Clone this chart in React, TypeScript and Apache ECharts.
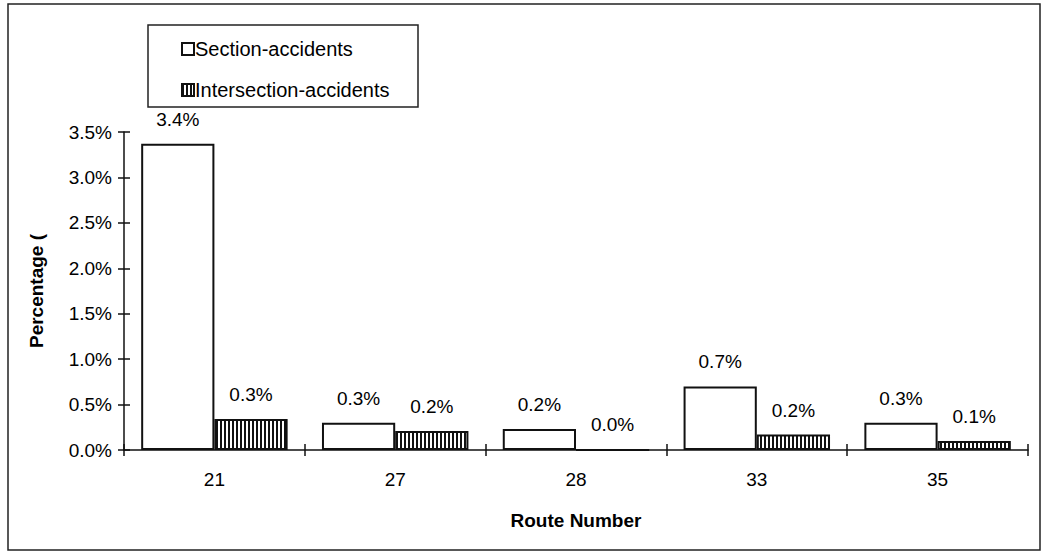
import React, { useEffect, useRef } from "react";
import * as echarts from "echarts";

const routes = ["21", "27", "28", "33", "35"];
const sectionAccidents = [3.37, 0.3, 0.23, 0.7, 0.3];
const intersectionAccidents = [0.34, 0.21, 0.0, 0.17, 0.1];
const yTicks = { min: 0, max: 3.5, interval: 0.5 };
const seriesNames = ["Section-accidents", "Intersection-accidents"];

function makeStripes(): HTMLCanvasElement {
  const c = document.createElement("canvas");
  c.width = 4;
  c.height = 4;
  const ctx = c.getContext("2d")!;
  ctx.fillStyle = "#ffffff";
  ctx.fillRect(0, 0, 4, 4);
  ctx.fillStyle = "#111111";
  ctx.fillRect(0, 0, 2, 4);
  return c;
}

export default function App() {
  const ref = useRef<HTMLDivElement>(null);
  useEffect(() => {
    if (!ref.current) return;
    const chart = echarts.init(ref.current, undefined, { renderer: "svg" });
    const stripes = makeStripes();
    const font = "Arial, 'Liberation Sans', sans-serif";
    const fmt = (v: number) => v.toFixed(1) + "%";
    const labelCfg = {
      show: true,
      position: "top" as const,
      distance: 15,
      color: "#000",
      fontSize: 19,
      fontFamily: font,
      formatter: (p: any) => fmt(p.value),
    };
    chart.setOption({
      animation: false,
      backgroundColor: "#ffffff",
      textStyle: { fontFamily: font },
      grid: { left: 124, right: 19, top: 132, bottom: 108, containLabel: false },
      legend: {
        orient: "vertical",
        left: 176,
        top: 34,
        itemWidth: 12,
        itemHeight: 12,
        itemGap: 21,
        icon: "rect",
        textStyle: { fontSize: 20, color: "#000", fontFamily: font, lineHeight: 20, padding: [0, 0, 0, -4] },
        data: seriesNames,
      },
      graphic: [
        {
          type: "rect",
          shape: { x: 8, y: 4, width: 1032, height: 546 },
          style: { fill: "none", stroke: "#222", lineWidth: 1.5 },
          silent: true,
        },
        {
          type: "rect",
          shape: { x: 148, y: 25, width: 270, height: 82 },
          style: { fill: "none", stroke: "#222", lineWidth: 1.5 },
          silent: true,
        },
      ],
      xAxis: [
        {
          type: "category",
          data: routes,
          position: "bottom",
          name: "Route Number",
          nameLocation: "middle",
          nameGap: 61,
          nameTextStyle: { fontSize: 19, fontWeight: "bold", color: "#000", fontFamily: font },
          axisLine: { lineStyle: { color: "#111", width: 1.5 } },
          axisTick: { show: true, alignWithLabel: false, length: 6, lineStyle: { color: "#111", width: 1.5 } },
          axisLabel: { fontSize: 19, color: "#000", margin: 20, fontFamily: font },
          splitLine: { show: false },
        },
        {
          type: "category",
          data: routes,
          position: "bottom",
          offset: 0,
          axisLine: { show: false },
          axisTick: { show: true, inside: true, alignWithLabel: false, length: 6, lineStyle: { color: "#111", width: 1.5 } },
          axisLabel: { show: false },
          splitLine: { show: false },
        },
      ],
      yAxis: [
        {
          type: "value",
          min: yTicks.min,
          max: yTicks.max,
          interval: yTicks.interval,
          position: "left",
          name: "Percentage (",
          nameLocation: "middle",
          nameGap: 78,
          nameTextStyle: { fontSize: 19, fontWeight: "bold", color: "#000", fontFamily: font },
          axisLine: { show: true, lineStyle: { color: "#111", width: 1.5 } },
          axisTick: { show: true, length: 6, lineStyle: { color: "#111", width: 1.5 } },
          axisLabel: { fontSize: 19, color: "#000", margin: 12, fontFamily: font, formatter: (v: number) => fmt(v) },
          splitLine: { show: false },
        },
        {
          type: "value",
          min: yTicks.min,
          max: yTicks.max,
          interval: yTicks.interval,
          position: "left",
          offset: 0,
          axisLine: { show: false },
          axisTick: { show: true, inside: true, length: 6, lineStyle: { color: "#111", width: 1.5 } },
          axisLabel: { show: false },
          splitLine: { show: false },
        },
      ],
      series: [
        {
          name: seriesNames[0],
          type: "bar",
          data: sectionAccidents,
          barGap: "0%",
          barCategoryGap: "19%",
          itemStyle: { color: "#ffffff", borderColor: "#111", borderWidth: 2 },
          label: labelCfg,
        },
        {
          name: seriesNames[1],
          type: "bar",
          data: intersectionAccidents,
          barGap: "0%",
          barCategoryGap: "19%",
          itemStyle: {
            color: { image: stripes, repeat: "repeat" } as any,
            borderColor: "#111",
            borderWidth: 2,
          },
          label: labelCfg,
        },
      ],
    });
    return () => chart.dispose();
  }, []);
  return (
    <div
      ref={ref}
      style={{ position: "fixed", left: 0, top: 0, width: 1047, height: 558, background: "#fff" }}
    />
  );
}
